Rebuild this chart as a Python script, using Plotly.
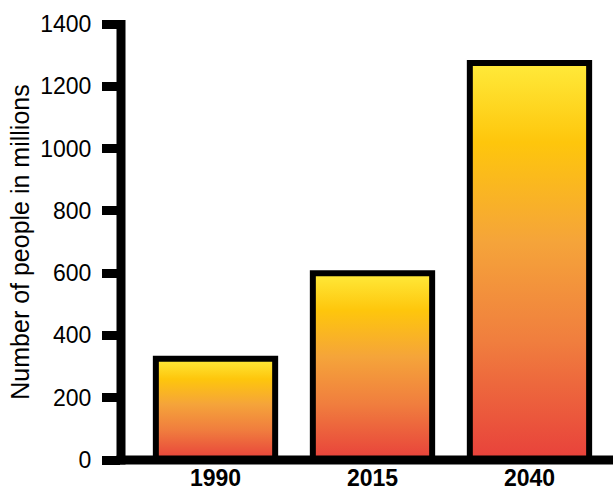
import plotly.graph_objects as go

years = ["1990", "2015", "2040"]
people_millions = [325, 600, 1275]
y_ticks = [0, 200, 400, 600, 800, 1000, 1200, 1400]

bar_half = 0.38
grad = [[0.0, "#E8413B"], [0.3, "#F07E3E"], [0.55, "#F5A43A"], [0.8, "#FEC60C"], [1.0, "#FFEA3A"]]
FONT = "Liberation Sans, Arial, sans-serif"

fig = go.Figure()
for i, (yr, v) in enumerate(zip(years, people_millions)):
    xs = [i - bar_half, i + bar_half, i + bar_half, i - bar_half, i - bar_half]
    ys = [0, 0, v, v, 0]
    fig.add_trace(go.Scatter(
        x=xs, y=ys, mode="lines", fill="toself",
        fillgradient=dict(type="vertical", colorscale=grad),
        line=dict(color="black", width=6),
        name=yr, showlegend=False, hoverinfo="skip",
    ))

PW = 615 - 121 - 2
PH = 493 - 24 - 33
# axis lines (centred on the plot edges)
fig.add_shape(type="line", xref="x domain", yref="y domain",
              x0=0, x1=0, y0=-4.5 / PH, y1=1 + 4 / PH,
              line=dict(color="black", width=9), layer="above")
fig.add_shape(type="line", xref="x domain", yref="y domain",
              x0=-4.5 / PW, x1=1, y0=0, y1=0,
              line=dict(color="black", width=9), layer="above")

fig.update_layout(
    width=615, height=493,
    margin=dict(l=121, r=2, t=24, b=33, autoexpand=False),
    paper_bgcolor="white", plot_bgcolor="white",
    font=dict(family=FONT, color="black", size=22),
    xaxis=dict(
        range=[-0.602, 2.532], tickvals=[0, 1, 2], ticktext=years,
        tickfont=dict(family=FONT, size=23, color="black", weight="bold"),
        showgrid=False, zeroline=False, showline=False, automargin=False,
        ticks="", ticklabelstandoff=2,
    ),
    yaxis=dict(
        range=[0, 1400], tickvals=y_ticks, ticktext=[str(t) for t in y_ticks],
        tickfont=dict(family=FONT, size=23, color="black"),
        ticks="outside", ticklen=18, tickwidth=9, tickcolor="black",
        ticklabelstandoff=6, automargin=False,
        showgrid=False, zeroline=False, showline=False,
        title=dict(text="Number of people in millions", standoff=3,
                   font=dict(family=FONT, size=25, color="black")),
    ),
)
fig.write_html("out.html")
